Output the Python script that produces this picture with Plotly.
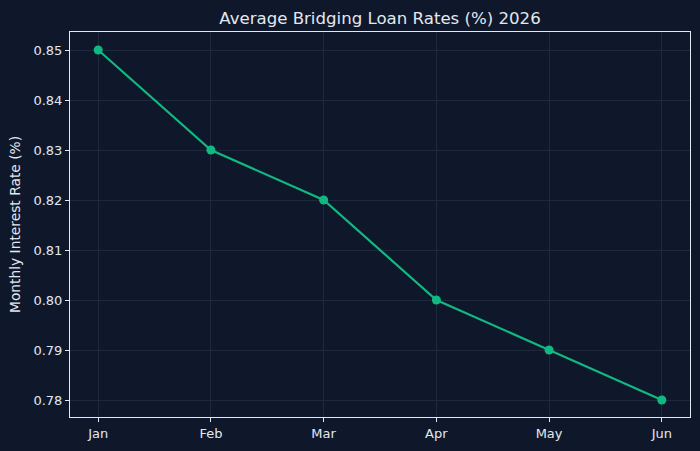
import plotly.graph_objects as go

months = ["Jan", "Feb", "Mar", "Apr", "May", "Jun"]
rates = [0.85, 0.83, 0.82, 0.80, 0.79, 0.78]
y_ticks = [0.78, 0.79, 0.80, 0.81, 0.82, 0.83, 0.84, 0.85]

BG = "#0f172a"
TXT = "#e2e8f0"
GRID = "#1e293b"
LINE = "#10b981"

fig = go.Figure(go.Scatter(
    x=months, y=rates, mode="lines+markers",
    line=dict(color=LINE, width=2.2),
    marker=dict(color=LINE, size=9),
))

fig.update_layout(
    width=700, height=451,
    paper_bgcolor=BG, plot_bgcolor=BG,
    margin=dict(l=70, r=10, t=32, b=34),
    font=dict(family="DejaVu Sans", color=TXT, size=13),
    title=dict(text="Average Bridging Loan Rates (%) 2026", x=(70 + 690) / 2 / 700,
               xanchor="center", y=1 - 18 / 451, yanchor="middle",
               font=dict(size=16.6, color=TXT)),
    showlegend=False,
)
fig.update_xaxes(
    range=[-0.25, 5.25], showgrid=True, gridcolor=GRID, gridwidth=1,
    showline=True, linecolor=TXT, linewidth=1, mirror=True,
    ticks="outside", ticklen=4, tickcolor=TXT, zeroline=False,
)
fig.update_yaxes(
    range=[0.7766, 0.8536], tickvals=y_ticks,
    ticktext=[f"{v:.2f}" for v in y_ticks],
    showgrid=True, gridcolor=GRID, gridwidth=1,
    showline=True, linecolor=TXT, linewidth=1, mirror=True,
    ticks="outside", ticklen=4, tickcolor=TXT, zeroline=False,
    title=dict(text="Monthly Interest Rate (%)", font=dict(size=13.8), standoff=9),
)

fig.write_html("out.html")
